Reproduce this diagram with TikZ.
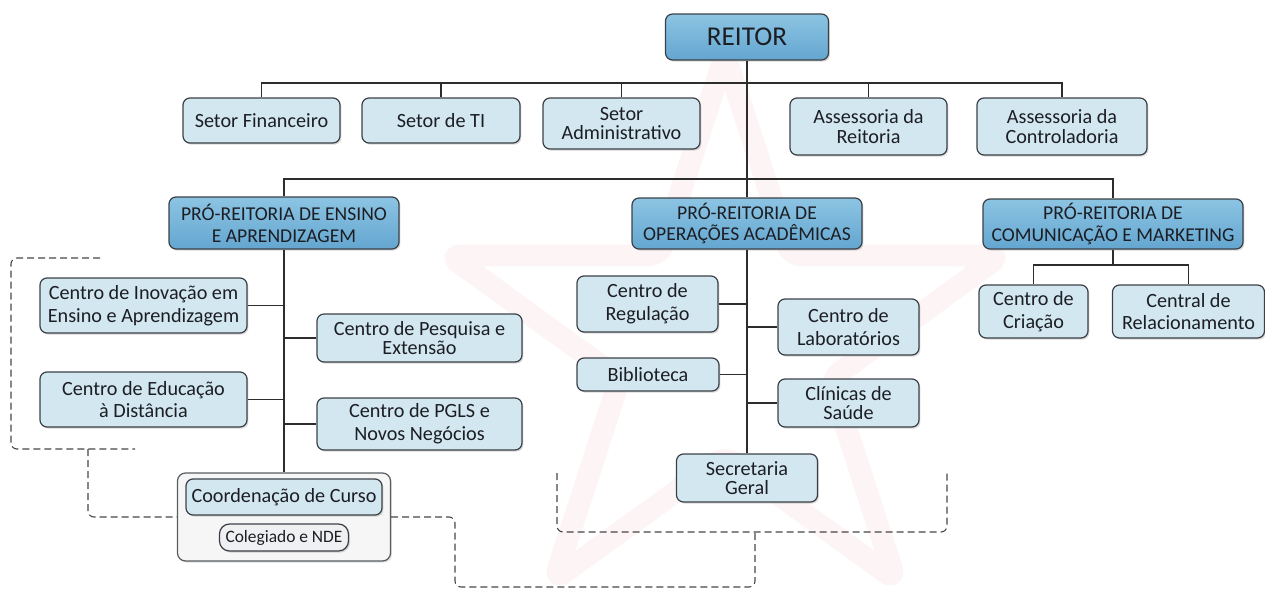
\documentclass[tikz,border=0pt]{standalone}
\usepackage{fontspec}
\setmainfont{Carlito}
\usetikzlibrary{shadows,shapes.geometric}

\definecolor{boxline}{RGB}{60,64,70}
\definecolor{lightfill}{RGB}{211,231,241}
\definecolor{headtop}{RGB}{140,196,227}
\definecolor{headbottom}{RGB}{100,166,208}
\definecolor{groupfill}{RGB}{246,246,246}
\definecolor{pillfill}{RGB}{238,240,241}
\definecolor{linecol}{RGB}{45,45,45}
\definecolor{dashcol}{RGB}{70,70,70}
\definecolor{starcol}{RGB}{230,110,125}
\definecolor{textcol}{RGB}{28,30,36}

\tikzset{
  unit/.style={draw=boxline, fill=lightfill, line width=0.6pt, rounded corners=3.5pt,
    align=center, inner sep=1pt, text=textcol, font=\fontsize{10.1}{11.3}\selectfont,
    drop shadow={shadow xshift=0.7pt, shadow yshift=-0.8pt, opacity=0.3}},
  head/.style={unit, top color=headtop, bottom color=headbottom, font=\fontsize{9.8}{10.9}\selectfont},
  groupbox/.style={draw=boxline!85, fill=groupfill, line width=0.6pt, rounded corners=4pt,
    drop shadow={shadow xshift=0.7pt, shadow yshift=-0.8pt, opacity=0.25}},
  boxsize/.style 2 args={minimum width=#1, minimum height=#2},
  tight/.style={font=\fontsize{10.1}{9.7}\selectfont},
  conn/.style={draw=linecol, line width=0.6pt},
  bracket/.style={draw=dashcol, line width=0.55pt, dash pattern=on 3.5pt off 2pt, rounded corners=3pt},
}

\begin{document}
\begin{tikzpicture}[x=0.5pt, y=-0.5pt]
    \useasboundingbox (0,0) rectangle (1265,589);

    % watermark
    \node[star, star points=5, star point ratio=2.618, minimum size=290pt, inner sep=0pt,
      draw=starcol, draw opacity=0.08, line width=11pt, line join=round, rounded corners=6pt] (wmark) at (725,345) {};

    % Reitoria
    \node[head, boxsize={81.5pt}{23pt}, font=\fontsize{13.6}{15}\selectfont] (reitor) at (747,37) {REITOR};
    \node[unit, boxsize={78.5pt}{22.5pt}] (finan) at (261.5,120.5) {Setor Financeiro};
    \node[unit, boxsize={79pt}{22.5pt}] (ti) at (441,120.5) {Setor de TI};
    \node[unit, tight, boxsize={78.5pt}{25.5pt}] (adm) at (621.5,123.5) {Setor\\Administrativo};
    \node[unit, tight, boxsize={78.5pt}{28.5pt}] (assr) at (868.5,126.5) {Assessoria da\\Reitoria};
    \node[unit, tight, boxsize={85pt}{28.5pt}] (assc) at (1062,126.5) {Assessoria da\\Controladoria};

    % Pro-reitorias
    \node[head, boxsize={115pt}{26pt}] (ensino) at (284,223) {PRÓ-REITORIA DE ENSINO\\E APRENDIZAGEM};
    \node[head, boxsize={115pt}{25.5pt}] (opera) at (747,223.5) {PRÓ-REITORIA DE\\OPERAÇÕES ACADÊMICAS};
    \node[head, boxsize={130pt}{25pt}] (com) at (1113,224) {PRÓ-REITORIA DE\\COMUNICAÇÃO E MARKETING};

    % Ensino e aprendizagem
    \node[unit, boxsize={103.5pt}{27.5pt}] (inov) at (143.5,305.5) {Centro de Inovação em\\Ensino e Aprendizagem};
    \node[unit, tight, boxsize={102.5pt}{24pt}] (pesq) at (419.5,338) {Centro de Pesquisa e\\Extensão};
    \node[unit, boxsize={103.5pt}{27.5pt}] (educ) at (143.5,399.5) {Centro de Educação\\à Distância};
    \node[unit, boxsize={102.5pt}{26pt}] (pgls) at (419.5,424) {Centro de PGLS e\\Novos Negócios};
    \node[groupbox, boxsize={106.5pt}{44pt}] (grp) at (284,517) {};
    \node[unit, boxsize={98pt}{18pt}] (coord) at (284,497) {Coordenação de Curso};
    \node[unit, boxsize={64.5pt}{13.5pt}, fill=pillfill, rounded corners=5pt,
      font=\fontsize{8.7}{10}\selectfont] (coleg) at (284,537.5) {Colegiado e NDE};

    % Operacoes academicas
    \node[unit, boxsize={70.5pt}{28pt}] (reg) at (647.5,304) {Centro de\\Regulação};
    \node[unit, boxsize={70.5pt}{28pt}] (lab) at (848.5,327) {Centro de\\Laboratórios};
    \node[unit, boxsize={71pt}{16.5pt}] (bib) at (648,374.5) {Biblioteca};
    \node[unit, tight, boxsize={70.5pt}{24pt}] (clin) at (848.5,403) {Clínicas de\\Saúde};
    \node[unit, tight, boxsize={70.5pt}{24pt}] (secr) at (747,478) {Secretaria\\Geral};

    % Comunicacao e marketing
    \node[unit, boxsize={54.5pt}{26.5pt}] (cria) at (1033.5,311.5) {Centro de\\Criação};
    \node[unit, boxsize={76pt}{26.5pt}] (rel) at (1188.5,311.5) {Central de\\Relacionamento};

    % Connections
    \coordinate (bus1) at (0,83);
    \coordinate (bus2) at (0,179);
    \coordinate (bus3) at (1113,265);
    \draw[conn] (reitor.south) -- (opera.north);
    \draw[conn] (finan.north) -- (finan.north |- bus1) -| (assc.north);
    \foreach \n in {ti,adm,assr}
      \draw[conn] (\n.north) -- (\n.north |- bus1);
    \draw[conn] (ensino.north) -- (ensino.north |- bus2) -| (com.north);
    \draw[conn] (ensino.south) -- (grp.north);
    \foreach \n in {inov,educ}
      \draw[conn] (\n.east) -- (\n.east -| ensino.south);
    \foreach \n in {pesq,pgls}
      \draw[conn] (\n.west) -- (\n.west -| ensino.south);
    \draw[conn] (opera.south) -- (secr.north);
    \foreach \n in {reg,bib}
      \draw[conn] (\n.east) -- (\n.east -| opera.south);
    \foreach \n in {lab,clin}
      \draw[conn] (\n.west) -- (\n.west -| opera.south);
    \draw[conn] (com.south) -- (bus3);
    \draw[conn] (cria.north) |- (bus3) -| (rel.north);

    % Dashed groupings
    \coordinate (lbr) at (88,449);
    \coordinate (mbr) at (755,532);
    \coordinate (dip) at (455,587);
    \draw[bracket] (100,258) -- (11,258) -- (11,449) -- (135,449);
    \draw[bracket] (lbr) |- (grp.west);
    \draw[bracket] (grp.east) -| (dip) -| (mbr);
    \draw[bracket] (557,473) |- (947,532) -- (947,470);
\end{tikzpicture}
\end{document}
